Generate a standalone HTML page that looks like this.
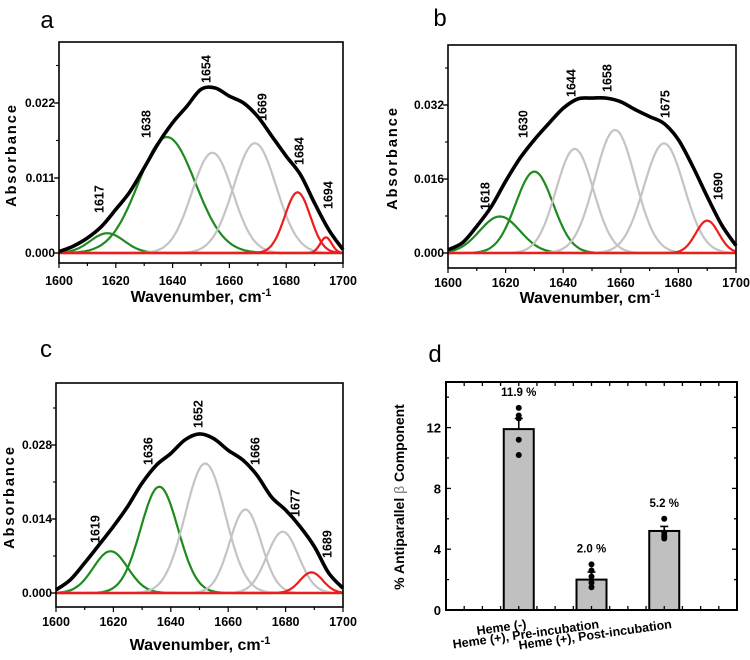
<!DOCTYPE html>
<html><head><meta charset="utf-8">
<style>
html,body{margin:0;padding:0;background:#fff;}
svg{display:block;font-family:"Liberation Sans",Arial,sans-serif;}
</style></head>
<body>
<svg id="fig" width="750" height="660" viewBox="0 0 750 660" xmlns="http://www.w3.org/2000/svg"></svg>
<script>
// ---- data ----
const waveTicks = [1600,1620,1640,1660,1680,1700];
const envX = [1600,1605,1610,1615,1620,1625,1630,1635,1640,1645,1650,1655,1660,1665,1670,1675,1680,1685,1690,1695,1700];
// panel a
const aEnvelope = [0.0002,0.001,0.0022,0.0039,0.0064,0.009,0.0125,0.0161,0.0191,0.0215,0.024,0.0242,0.023,0.022,0.020,0.0171,0.0142,0.0115,0.0073,0.0034,0.0005];
const aCenters = [1617,1638,1654,1669,1684,1694];
const aAmps = [0.0029,0.017,0.0147,0.0161,0.0089,0.0023];
const aSigmas = [6,10,7.2,7.5,4.5,2];
const aColors = ["green","green","grey","grey","red","red"];
const aPeakLabels = ["1617","1638","1654","1669","1684","1694"];
const aYTicks = [0,0.011,0.022];
const aYTickLabels = ["0.000","0.011","0.022"];
// panel b
const bEnvelope = [0.0007,0.0022,0.0058,0.01,0.0155,0.0205,0.0245,0.028,0.0313,0.0333,0.0335,0.0335,0.0327,0.031,0.0295,0.028,0.0245,0.0187,0.0122,0.0061,0.0016];
const bCenters = [1618,1630,1644,1658,1675,1690];
const bAmps = [0.0079,0.0176,0.0225,0.0266,0.0237,0.007];
const bSigmas = [7,6.5,6.5,7,7,4];
const bColors = ["green","green","grey","grey","grey","red"];
const bPeakLabels = ["1618","1630","1644","1658","1675","1690"];
const bYTicks = [0,0.016,0.032];
const bYTickLabels = ["0.000","0.016","0.032"];
// panel c
const cEnvelope = [0.0006,0.0025,0.0057,0.0091,0.0126,0.0164,0.0208,0.0242,0.0264,0.029,0.0301,0.0292,0.027,0.0252,0.0223,0.0182,0.0157,0.0126,0.0088,0.0038,0.0009];
const cCenters = [1619,1636,1652,1666,1679,1689];
const cAmps = [0.0079,0.0201,0.0245,0.0158,0.0116,0.0039];
const cSigmas = [6,6.5,7,5.5,5.5,4];
const cColors = ["green","green","grey","grey","grey","red"];
const cPeakLabels = ["1619","1636","1652","1666","1677","1689"];
const cYTicks = [0,0.014,0.028];
const cYTickLabels = ["0.000","0.014","0.028"];
// panel d
const dCategories = ["Heme (-)","Heme (+), Pre-incubation","Heme (+), Post-incubation"];
const dValues = [11.9,2.0,5.2];
const dErrors = [0.7,0.5,0.3];
const dValueLabels = ["11.9 %","2.0 %","5.2 %"];
const dPoints = [[13.3,12.8,12.6,11.2,10.2],[3.0,2.6,2.2,1.8,1.5],[6.0,5.1,4.9,4.8,4.7]];
const dYTicks = [0,4,8,12];
</script>
<script>
const NS="http://www.w3.org/2000/svg";
const svg=document.getElementById('fig');
function mk(tag,attrs,parent,text){const e=document.createElementNS(NS,tag);for(const k in attrs)e.setAttribute(k,attrs[k]);if(text!==undefined)e.textContent=text;(parent||svg).appendChild(e);return e;}
const colorMap={green:"#1f8a1f",grey:"#c4c4c4",red:"#ee1c1c"};

function spectrum(cfg){
  const g=mk('g',{});
  
  
  const L=cfg.box[0],T=cfg.box[1],R=cfg.box[2],B=cfg.box[3];
  const xs=v=>L+(v-1600)/100*(R-L);
  const ys=v=>cfg.y0-(v/cfg.yRef)*(cfg.y0-cfg.yRefPx);
  // components
  cfg.centers.forEach((c,i)=>{
    let d="";
    for(let x=1600;x<=1700;x+=0.5){const v=cfg.amps[i]*Math.exp(-Math.pow(x-c,2)/(2*cfg.sigmas[i]*cfg.sigmas[i]));d+=(x===1600?"M":"L")+xs(x).toFixed(1)+","+ys(v).toFixed(1);}
    const p=mk('path',{d:d,fill:"none",stroke:colorMap[cfg.colors[i]],"stroke-width":2.2},g);
    
    
  });
  // baseline red
  const bl=mk('line',{x1:L,x2:R,y1:ys(0),y2:ys(0),stroke:"#ee1c1c","stroke-width":2.2},g);
  
  
  // envelope (smooth)
  const pts=envX.map((x,i)=>[xs(x),ys(cfg.env[i])]);
  let d="M"+pts[0][0]+","+pts[0][1];
  for(let i=0;i<pts.length-1;i++){
    const p0=pts[Math.max(0,i-1)],p1=pts[i],p2=pts[i+1],p3=pts[Math.min(pts.length-1,i+2)];
    const c1=[p1[0]+(p2[0]-p0[0])/6,p1[1]+(p2[1]-p0[1])/6],c2=[p2[0]-(p3[0]-p1[0])/6,p2[1]-(p3[1]-p1[1])/6];
    d+=" C"+c1[0].toFixed(1)+","+c1[1].toFixed(1)+" "+c2[0].toFixed(1)+","+c2[1].toFixed(1)+" "+p2[0].toFixed(1)+","+p2[1].toFixed(1);
  }
  const env=mk('path',{d:d,fill:"none",stroke:"#000","stroke-width":3.6,"stroke-linejoin":"round"},g);
  
  
  // box
  const bx=mk('rect',{x:L,y:T,width:R-L,height:B-T,fill:"none",stroke:"#000","stroke-width":1.6},g);
  
  
  // x ticks
  for(let x=1600;x<=1700;x+=10){
    const major=(x%20===0);
    mk('line',{x1:xs(x),x2:xs(x),y1:B,y2:B+(major?5:3),stroke:"#000","stroke-width":1.2},g);
  }
  waveTicks.forEach(x=>{
    const t=mk('text',{x:xs(x),y:cfg.xLabY,"text-anchor":"middle","font-size":12.5,"font-weight":"bold"},g,String(x));
    
    
  });
  // y ticks
  const step=cfg.yTicks[1]/2;
  for(let v=0;ys(v)>T+2;v+=step){mk('line',{x1:L-3,x2:L,y1:ys(v),y2:ys(v),stroke:"#000","stroke-width":1.1},g);}
  cfg.yTicks.forEach((v,i)=>{
    mk('line',{x1:L-5,x2:L,y1:ys(v),y2:ys(v),stroke:"#000","stroke-width":1.3},g);
    const t=mk('text',{x:L-4,y:ys(v)+4,"text-anchor":"end","font-size":12,"font-weight":"bold"},g,cfg.yTickLabels[i]);
    
    
  });
  // peak labels
  cfg.labels.forEach((lab,i)=>{
    const p=cfg.labelPos[i];
    const t=mk('text',{x:0,y:0,transform:"translate("+(p[0]+4.5)+","+p[1]+") rotate(-90)","font-size":12.5,"font-weight":"bold"},g,lab);
    
    
  });
  // axis titles
  const yt=mk('text',{x:0,y:0,transform:"translate("+(cfg.yTitle[0]+6)+","+cfg.yTitle[1]+") rotate(-90)","text-anchor":"middle","font-size":14.5,"font-weight":"bold","letter-spacing":"2"},g,"Absorbance");
  
  
  const xt=mk('text',{x:cfg.xTitle[0],y:cfg.xTitle[1],"text-anchor":"middle","font-size":16,"font-weight":"bold"},g);
  
  
  xt.appendChild(document.createTextNode("Wavenumber, cm"));
  const sup=mk('tspan',{dy:-6,"font-size":11},xt,"-1");
  const pl=mk('text',{x:cfg.letter[0],y:cfg.letter[1],"font-size":24,"text-anchor":"middle"},g,cfg.letterText);
  
  
}

spectrum({name:"panel-a",box:[59,42,343,263],y0:253,yRef:0.022,yRefPx:103,env:aEnvelope,centers:aCenters,amps:aAmps,sigmas:aSigmas,colors:aColors,labels:aPeakLabels,yTicks:aYTicks,yTickLabels:aYTickLabels,xLabY:285,
 labelPos:[[99,213],[146,138],[206,83],[262,121],[299,165],[328,209]],yTitle:[10,155],xTitle:[201,302],letter:[47,28],letterText:"a"});
spectrum({name:"panel-b",box:[448,45,736,268],y0:253,yRef:0.032,yRefPx:105,env:bEnvelope,centers:bCenters,amps:bAmps,sigmas:bSigmas,colors:bColors,labels:bPeakLabels,yTicks:bYTicks,yTickLabels:bYTickLabels,xLabY:287,
 labelPos:[[485,210],[523,138],[571,97],[607,92],[665,118],[718,200]],yTitle:[391,158],xTitle:[590,303],letter:[440,26],letterText:"b"});
spectrum({name:"panel-c",box:[56,383,343,607],y0:593,yRef:0.028,yRefPx:445,env:cEnvelope,centers:cCenters,amps:cAmps,sigmas:cSigmas,colors:cColors,labels:cPeakLabels,yTicks:cYTicks,yTickLabels:cYTickLabels,xLabY:626,
 labelPos:[[95,543],[148,465],[198,428],[255,465],[295,517],[327,558]],yTitle:[8,497],xTitle:[200,650],letter:[46,357],letterText:"c"});

// ---- panel d ----
(function(){
  const g=mk('g',{});
  
  
  const L=446,R=737,T=382,B=610;
  const xs=c=>L+c/4*(R-L);
  const ys=v=>B-v/15*(B-T);
  const bw=30;
  dValues.forEach((v,i)=>{
    const cx=xs(i+1);
    const r=mk('rect',{x:cx-bw/2,y:ys(v),width:bw,height:B-ys(v),fill:"#c0c0c0",stroke:"#000","stroke-width":2},g);
    
    
    const e=mk('path',{d:"M"+cx+","+ys(v)+"V"+ys(v+dErrors[i])+"M"+(cx-4)+","+ys(v+dErrors[i])+"H"+(cx+4),stroke:"#000","stroke-width":1.6,fill:"none"},g);
    
    
    dPoints[i].forEach(p=>{
      const c=mk('circle',{cx:cx,cy:ys(p),r:3,fill:"#000"},g);
      
      
    });
    const vl=mk('text',{x:cx,y:ys(Math.max(...dPoints[i]))-12,"text-anchor":"middle","font-size":11.5,"font-weight":"bold"},g,dValueLabels[i]);
    
    
    const cl=mk('text',{x:0,y:0,transform:"translate("+(cx+8)+","+(B+18)+") rotate(-8)","text-anchor":"end","font-size":12.5,"font-weight":"bold"},g,dCategories[i]);
    
    
  });
  const f=mk('rect',{x:L,y:T,width:R-L,height:B-T,fill:"none",stroke:"#000","stroke-width":2},g);
  
  
  for(let v=0;v<=14;v+=2){
    const len=(v%4===0)?5:3;
    mk('line',{x1:L,x2:L+len,y1:ys(v),y2:ys(v),stroke:"#000","stroke-width":1.3},g);
    mk('line',{x1:R,x2:R-len,y1:ys(v),y2:ys(v),stroke:"#000","stroke-width":1.3},g);
  }
  for(let c=0.25;c<4;c+=0.25){
    mk('line',{x1:xs(c),x2:xs(c),y1:B,y2:B-4,stroke:"#000","stroke-width":1.3},g);
    mk('line',{x1:xs(c),x2:xs(c),y1:T,y2:T+4,stroke:"#000","stroke-width":1.3},g);
  }
  dYTicks.forEach(v=>{
    const t=mk('text',{x:L-5,y:ys(v)+5,"text-anchor":"end","font-size":13,"font-weight":"bold"},g,String(v));
    
    
  });
  const yt=mk('text',{x:0,y:0,transform:"translate(404,497) rotate(-90)","text-anchor":"middle","font-size":14,"font-weight":"bold"},g);
  
  
  yt.appendChild(document.createTextNode("% Antiparallel "));
  mk('tspan',{"font-weight":"normal",fill:"#777"},yt,"β");
  yt.appendChild(document.createTextNode(" Component"));
  const pl=mk('text',{x:435,y:362,"font-size":24,"text-anchor":"middle"},g,"d");
  
  
})();
</script>
</body></html>
